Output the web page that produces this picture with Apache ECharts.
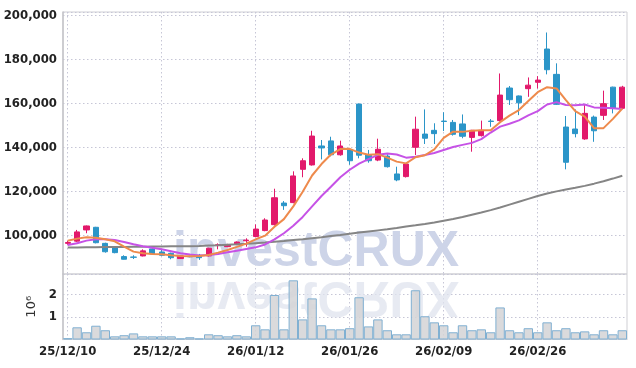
<!DOCTYPE html>
<html>
<head>
<meta charset="utf-8">
<script src="https://cdn.jsdelivr.net/npm/echarts@6.0.0/dist/echarts.min.js"></script>
<style>
    html, body {margin: 0; padding: 0; background: #fff;}
    #stockChart {width: 636px; height: 368px;}
</style>
</head>
<body>
<div id="stockChart"></div>
<script>
// trading days shown on the chart
let dates = ['25/12/10', '25/12/11', '25/12/12', '25/12/15', '25/12/16', '25/12/17', '25/12/18', '25/12/19', '25/12/22', '25/12/23',
    '25/12/24', '25/12/26', '25/12/29', '25/12/30', '26/01/02', '26/01/05', '26/01/06', '26/01/07', '26/01/08', '26/01/09',
    '26/01/12', '26/01/13', '26/01/14', '26/01/15', '26/01/16', '26/01/19', '26/01/20', '26/01/21', '26/01/22', '26/01/23',
    '26/01/26', '26/01/27', '26/01/28', '26/01/29', '26/01/30', '26/02/02', '26/02/03', '26/02/04', '26/02/05', '26/02/06',
    '26/02/09', '26/02/10', '26/02/11', '26/02/12', '26/02/13', '26/02/19', '26/02/20', '26/02/23', '26/02/24', '26/02/25',
    '26/02/26', '26/02/27', '26/03/03', '26/03/04', '26/03/05', '26/03/06', '26/03/09', '26/03/10', '26/03/11', '26/03/12'];

let opens = [96500, 97500, 102600, 103800, 96500, 94900, 90500, 90300, 90800, 94000,
    92600, 92000, 89600, 90600, 91100, 90800, 95500, 95000, 96100, 97700,
    99600, 102300, 105000, 114800, 115000, 130100, 132100, 140700, 143000, 136700,
    138900, 159700, 136600, 134300, 136100, 128000, 126800, 140100, 146100, 147800,
    152000, 151400, 150700, 144600, 145400, 152000, 152200, 167000, 163400, 166700,
    169600, 184700, 173200, 149300, 148400, 143900, 153800, 154600, 167400, 157800];
let closes = [96900, 101700, 104400, 96800, 92700, 92300, 89300, 90200, 93100, 91700,
    91100, 90000, 90800, 90400, 90000, 94300, 95900, 95900, 97100, 98000,
    103000, 107100, 117200, 113600, 127100, 134000, 145200, 139800, 136700, 140700,
    134000, 136500, 134000, 139200, 131300, 125300, 132500, 148300, 144200, 146300,
    151800, 146000, 145100, 147800, 147800, 151800, 163800, 161700, 160300, 168300,
    170600, 175300, 159600, 133300, 146300, 155500, 147600, 159900, 157800, 167400];
let lows = [95900, 97000, 101100, 96500, 92300, 92000, 89200, 89400, 90600, 91500,
    90900, 89300, 89400, 90200, 89000, 90600, 93800, 94800, 95900, 95000,
    99300, 102000, 104600, 111700, 114700, 126500, 131800, 134600, 136000, 136300,
    132200, 135100, 133100, 133800, 130900, 124700, 126400, 136600, 141600, 141600,
    147500, 145400, 144200, 138100, 145000, 149400, 151800, 159300, 154700, 163000,
    166800, 173200, 159300, 130100, 144600, 143500, 142600, 152500, 155500, 157500];
let highs = [97600, 102600, 104600, 104000, 96800, 95100, 91100, 91100, 93800, 95000,
    93800, 92300, 91000, 90900, 91700, 94500, 96500, 96300, 97400, 98800,
    105100, 107900, 121300, 115700, 129200, 135100, 147600, 143400, 144900, 143100,
    139600, 160000, 138900, 144000, 137000, 131300, 133000, 154000, 157300, 151000,
    156000, 152500, 155000, 148000, 152200, 152900, 173600, 167900, 163600, 171800,
    172400, 192200, 178200, 154300, 157300, 159700, 154500, 165800, 167600, 168000];

// moving averages
let ma5 = [97700, 98650, 99250, 99100, 98350, 97450, 95000, 92750, 92000, 91700,
    91550, 91100, 90800, 90650, 90800, 91250, 92300, 93500, 94900, 96400,
    98350, 100000, 104000, 107500, 113300, 119900, 127300, 132500, 136800, 139300,
    139400, 137700, 136700, 137000, 135400, 133600, 132800, 135600, 136500, 139200,
    144400, 147200, 147100, 147600, 147800, 147800, 151500, 154500, 157000, 161100,
    165100, 167400, 166800, 161500, 156500, 154000, 148800, 148800, 153000, 157700];
let ma10 = [95800, 96550, 97750, 98350, 98350, 98050, 97150, 96100, 95200, 94500,
    93800, 92900, 92000, 91400, 91000, 91250, 91700, 92450, 93200, 93950,
    94700, 96000, 98300, 101100, 104500, 108500, 113300, 118000, 122200, 126500,
    129900, 132700, 134700, 136700, 137300, 136800, 135400, 135850, 136600, 137500,
    138900, 140200, 141200, 142100, 143800, 146800, 149500, 150800, 152300, 154600,
    156500, 159500, 160600, 159300, 159200, 159500, 158200, 158000, 157800, 157500];
let maLong = [94600, 94650, 94700, 94750, 94800, 94850, 94900, 94950, 95000, 95050,
    95100, 95150, 95200, 95250, 95350, 95500, 95650, 95850, 96050, 96300,
    96600, 96900, 97250, 97600, 98000, 98400, 98850, 99300, 99800, 100300,
    100900, 101400, 101900, 102400, 102900, 103500, 104200, 104700, 105300, 106000,
    106800, 107600, 108500, 109500, 110500, 111600, 112800, 114100, 115400, 116700,
    118000, 119100, 120100, 120900, 121700, 122600, 123600, 124700, 125900, 127200];

// volume, in millions of shares
let volumes = [0.06, 0.54, 0.32, 0.61, 0.41, 0.14, 0.19, 0.27, 0.14, 0.14,
    0.14, 0.14, 0.05, 0.10, 0.05, 0.23, 0.19, 0.14, 0.19, 0.14,
    0.63, 0.45, 1.97, 0.45, 2.62, 0.89, 1.82, 0.63, 0.45, 0.45,
    0.50, 1.87, 0.58, 0.89, 0.41, 0.23, 0.23, 2.18, 1.03, 0.76,
    0.63, 0.32, 0.63, 0.41, 0.45, 0.32, 1.42, 0.41, 0.32, 0.50,
    0.32, 0.76, 0.41, 0.50, 0.32, 0.36, 0.23, 0.41, 0.23, 0.41];

function buildCandles() {
    let rows = [];
    for (let i = 0; i < dates.length; i++) {
        rows.push([opens[i], closes[i], lows[i], highs[i]]);
    }
    return rows;
}

function StockInit() {
    let upColor = '#e2196b';
    let downColor = '#2b95c8';
    let labelFont = 'DejaVu Sans Condensed';
    let dotted = {color: '#c6c6d6', width: 1, type: [1.5, 2.5]};
    let frame = '#cfcfd4';

    let chart = echarts.init(document.getElementById('stockChart'));
    let option = {
        animation: false,
        backgroundColor: '#fff',
        grid: [
            {left: 63, width: 564, top: 12, height: 262, show: true, borderColor: frame, borderWidth: 1},
            {left: 63, width: 564, top: 274, height: 65.5, show: true, borderColor: frame, borderWidth: 1}
        ],
        xAxis: [
            {
                type: 'category', gridIndex: 0, data: dates,
                axisLine: {show: false},
                axisTick: {show: false},
                axisLabel: {show: false},
                splitLine: {show: true, interval: 9, alignWithLabel: true, lineStyle: dotted}
            },
            {
                type: 'category', gridIndex: 1, data: dates,
                axisLine: {lineStyle: {color: frame}},
                axisTick: {show: false},
                axisLabel: {
                    interval: 9, margin: 6, color: '#222',
                    fontFamily: labelFont, fontSize: 13, fontWeight: 'bold'
                },
                splitLine: {show: true, interval: 9, alignWithLabel: true, lineStyle: dotted}
            }
        ],
        yAxis: [
            {
                type: 'value', gridIndex: 0, min: 82600, max: 201500, splitNumber: 5,
                axisLine: {show: true, lineStyle: {color: '#c4c4c8', width: 1.5}},
                axisTick: {show: false},
                axisLabel: {
                    showMinLabel: false, showMaxLabel: false, margin: 6,
                    color: '#222', fontFamily: labelFont, fontSize: 13, fontWeight: 'bold',
                    formatter: function (v) { return v.toLocaleString('en-US'); }
                },
                splitLine: {show: true, lineStyle: dotted}
            },
            {
                type: 'value', gridIndex: 1, min: 0, max: 2.9, interval: 1,
                name: '10⁶', nameLocation: 'middle', nameRotate: 90, nameGap: 24,
                nameTextStyle: {color: '#333', fontFamily: 'DejaVu Sans', fontSize: 13},
                axisLine: {show: true, lineStyle: {color: '#c4c4c8', width: 1.5}},
                axisTick: {show: false},
                axisLabel: {
                    showMinLabel: false, showMaxLabel: false, margin: 6,
                    color: '#222', fontFamily: labelFont, fontSize: 13, fontWeight: 'bold'
                },
                splitLine: {show: true, lineStyle: dotted}
            }
        ],
        // faint watermark with its mirror image
        graphic: [
            {
                type: 'text', x: 173, y: 252, z: 1, silent: true,
                style: {
                    text: 'investCRUX', font: 'bold 50px "Liberation Sans"',
                    fill: '#cdd4e8', verticalAlign: 'middle'
                }
            },
            {
                type: 'text', x: 173, y: 296, scaleY: -1, z: 1, silent: true,
                style: {
                    text: 'investCRUX', font: 'bold 50px "Liberation Sans"',
                    verticalAlign: 'middle', fill: '#dfe3ee', opacity: 0.75
                }
            }
        ],
        series: [
            {
                type: 'candlestick', xAxisIndex: 0, yAxisIndex: 0,
                data: buildCandles(), barWidth: '62%',
                itemStyle: {color: upColor, color0: downColor, borderColor: upColor, borderColor0: downColor, borderWidth: 1}
            },
            {
                type: 'line', xAxisIndex: 0, yAxisIndex: 0, data: maLong,
                symbol: 'none', lineStyle: {color: '#858585', width: 2}
            },
            {
                type: 'line', xAxisIndex: 0, yAxisIndex: 0, data: ma10,
                symbol: 'none', lineStyle: {color: '#c652e6', width: 2}
            },
            {
                type: 'line', xAxisIndex: 0, yAxisIndex: 0, data: ma5,
                symbol: 'none', lineStyle: {color: '#ee8a4c', width: 2}
            },
            {
                type: 'bar', xAxisIndex: 1, yAxisIndex: 1, data: volumes,
                barCategoryGap: '0%',
                itemStyle: {color: 'rgba(212,212,214,0.85)', borderColor: '#80b0d2', borderWidth: 1}
            }
        ]
    };

    chart.setOption(option);
}
StockInit();
</script>
</body>
</html>
